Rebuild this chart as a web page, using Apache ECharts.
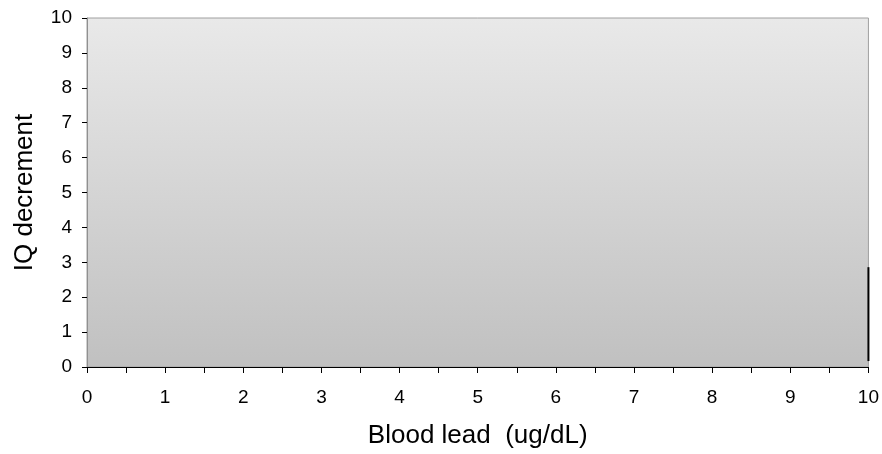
<!DOCTYPE html>
<html><head><meta charset="utf-8">
<script src="https://cdn.jsdelivr.net/npm/echarts@6/dist/echarts.min.js"></script>
<style>html,body{margin:0;padding:0;background:#fff}#c{width:882px;height:454px}</style>
</head><body><div id="c"></div>
<script>
var xTicks = [0,1,2,3,4,5,6,7,8,9,10];
var yTicks = [0,1,2,3,4,5,6,7,8,9,10];
var lineX = [10, 10];
var lineY = [0.17, 2.86];
var xName = 'Blood lead  (ug/dL)';
var yName = 'IQ decrement';

var chart = echarts.init(document.getElementById('c'));
var font = 'Liberation Sans, Arial, sans-serif';
chart.setOption({
  animation: false,
  grid: {
    left: 87, right: 13, top: 18, bottom: 86,
    show: true,
    borderColor: '#a0a0a0', borderWidth: 1,
    backgroundColor: new echarts.graphic.LinearGradient(0, 0, 0, 1, [
      {offset: 0, color: '#e9e9e9'},
      {offset: 1, color: '#c0c0c0'}
    ])
  },
  xAxis: {
    type: 'value', min: xTicks[0], max: xTicks[xTicks.length-1], interval: 0.5,
    name: xName, nameLocation: 'middle', nameGap: 56,
    nameTextStyle: {fontFamily: font, fontSize: 26, color: '#000'},
    axisLine: {show: true, lineStyle: {color: '#000', width: 1}},
    axisTick: {show: true, length: 6, lineStyle: {color: '#000'}},
    axisLabel: {fontFamily: font, fontSize: 19, color: '#000', margin: 21,
      formatter: function(v){ return xTicks.indexOf(v) >= 0 ? String(v) : ''; }},
    splitLine: {show: false}
  },
  yAxis: {
    type: 'value', min: yTicks[0], max: yTicks[yTicks.length-1], interval: 1,
    name: yName, nameLocation: 'middle', nameGap: 49,
    nameTextStyle: {fontFamily: font, fontSize: 26, color: '#000'},
    axisLine: {show: true, lineStyle: {color: '#909090', width: 1}},
    axisTick: {show: true, length: 5, lineStyle: {color: '#000'}},
    axisLabel: {fontFamily: font, fontSize: 19, color: '#000', margin: 15},
    splitLine: {show: false}
  },
  series: [{
    type: 'line',
    data: lineX.map(function(x, i){ return [x, lineY[i]]; }),
    showSymbol: false, symbol: 'none', clip: false,
    lineStyle: {color: '#000', width: 2}
  }]
});
</script></body></html>
